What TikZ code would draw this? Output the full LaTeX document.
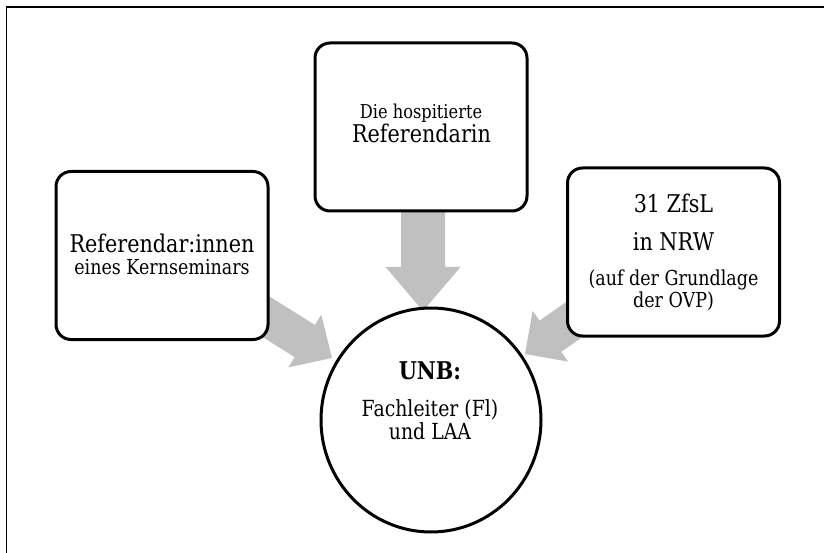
\documentclass[tikz,border=0pt]{standalone}
\usepackage{fontspec}
\setmainfont{DejaVu Serif}[FakeStretch=0.85]
\usetikzlibrary{calc,shapes.geometric}
\definecolor{arrowgray}{RGB}{191,192,191}
\tikzset{
  box/.style={draw=black, line width=3pt, rounded corners=15pt, fill=white,
    minimum width=212pt, minimum height=168pt, inner sep=0pt},
  hub/.style={draw=black, line width=3pt, fill=white, ellipse},
  lbl/.style={anchor=base, inner sep=0pt},
  fbig/.style={font=\fontsize{24.4}{29}\selectfont},
  fmid/.style={font=\fontsize{22.2}{26}\selectfont},
  fsmall/.style={font=\fontsize{20.6}{25}\selectfont},
  ftiny/.style={font=\fontsize{19.1}{23}\selectfont},
  frame/.style={line width=1.4pt},
}
% block arrow: #1 tip coordinate, #2 angle, #3 total length, #4 shaft width, #5 head width, #6 head length
\newcommand{\blockarr}[6]{%
  \begin{scope}[shift={(#1)}, rotate=#2]
    \fill[arrowgray] (0pt,0pt) -- (-#6pt,#5pt/2) -- (-#6pt,#4pt/2) -- (-#3pt,#4pt/2)
      -- (-#3pt,-#4pt/2) -- (-#6pt,-#4pt/2) -- (-#6pt,-#5pt/2) -- cycle;
  \end{scope}}
\begin{document}
\begin{tikzpicture}[x=1pt,y=-1pt]
\useasboundingbox (0,0) rectangle (824,553);
% frame
\draw[frame] (6.5,553) -- (6.5,7) -- (824,7);
% arrow tips
\coordinate (tipT) at (423,311);
\coordinate (tipL) at (332,358);
\coordinate (tipR) at (525,354);
\blockarr{tipT}{-90}{110}{44}{75}{44}
\blockarr{tipL}{-32}{95}{38}{62}{32}
\blockarr{tipR}{-145}{85}{38}{62}{31}
% boxes
\node[box] (top) at (421,127) {};
\node[box] (left) at (162,255.5) {};
\node[box] (right) at (673.5,252) {};
\node[hub, minimum width=220pt, minimum height=224pt, inner sep=0pt] (unb) at (431,420) {};
% texts
\node[lbl, ftiny] (t1) at (421,119) {Die hospitierte};
\node[lbl, fbig] (t2) at (421.5,143) {Referendarin};
\node[lbl, fbig] (l1) at (162,253) {Referendar:innen};
\node[lbl, fsmall] (l2) at (162,275) {eines Kernseminars};
\node[lbl, fbig] (r1) at (673.5,213) {31 ZfsL};
\node[lbl, fbig] (r2) at (673.5,251) {in NRW};
\node[lbl, fsmall] (r3) at (673.5,285) {(auf der Grundlage};
\node[lbl, fsmall] (r4) at (673.5,307) {der OVP)};
\node[lbl, font=\fontsize{24.4}{29}\selectfont\bfseries] (u1) at (430,379) {UNB:};
\node[lbl, fmid] (u2) at (430,416) {Fachleiter (Fl)};
\node[lbl, fmid] (u3) at (430,439) {und LAA};
\end{tikzpicture}
\end{document}
